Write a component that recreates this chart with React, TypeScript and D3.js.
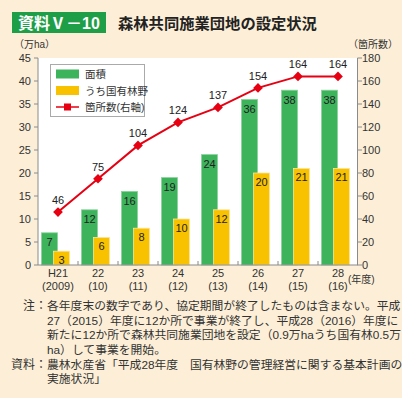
import React from 'react';
import * as d3 from 'd3';

const years = ['H21', '22', '23', '24', '25', '26', '27', '28'];
const yearsSub = ['(2009)', '(10)', '(11)', '(12)', '(13)', '(14)', '(15)', '(16)'];
const areaValues = [7, 12, 16, 19, 24, 36, 38, 38];
const nationalValues = [3, 6, 8, 10, 12, 20, 21, 21];
const siteCounts = [46, 75, 104, 124, 137, 154, 164, 164];
const leftTicks = [0, 5, 10, 15, 20, 25, 30, 35, 40, 45];
const rightTicks = [0, 20, 40, 60, 80, 100, 120, 140, 160, 180];
const legendItems = ['面積', 'うち国有林野', '箇所数(右軸)'];
const noteLines = [
  '各年度末の数字であり、協定期間が終了したものは含まない。平成',
  '27（2015）年度に12か所で事業が終了し、平成28（2016）年度に',
  '新たに12か所で森林共同施業団地を設定（0.9万haうち国有林0.5万',
  'ha）して事業を開始。',
];
const sourceLines = [
  '農林水産省「平成28年度　国有林野の管理経営に関する基本計画の',
  '実施状況」',
];

const W = 402;
const H = 398;
const font = "'Liberation Sans', 'Noto Sans CJK JP', sans-serif";
const green = '#3db35c';
const yellow = '#f9c200';
const red = '#e60012';
const axisColor = '#8a8a8a';
const textColor = '#333';

export default function App() {
  const left = 38;
  const right = 358;
  const top = 58;
  const bottom = 265;

  const x = d3.scaleBand<string>().domain(years).range([left, right]);
  const yL = d3.scaleLinear().domain([0, 45]).range([bottom, top]);
  const yR = d3.scaleLinear().domain([0, 180]).range([bottom, top]);

  const line = d3
    .line<number>()
    .x((_, i) => x(years[i])! + x.bandwidth() / 2)
    .y(d => yR(d));

  const diamond = d3.symbol().type(d3.symbolDiamond2).size(60)();

  return (
    <svg
      width={W}
      height={H}
      style={{ position: 'absolute', left: 0, top: 0, fontFamily: font }}
    >
      <rect width={W} height={H} fill="#fdefd7" />

      {/* title */}
      <rect x={12} y={12} width={94} height={21} fill="#1f9e48" />
      <text x={59} y={28.5} textAnchor="middle" fill="#fff" fontSize={16} fontWeight="bold">
        資料Ⅴ－10
      </text>
      <text x={118} y={28.5} fill="#222" fontSize={15.3} fontWeight="bold">
        森林共同施業団地の設定状況
      </text>

      {/* plot area */}
      <rect x={left} y={top} width={right - left} height={bottom - top} fill="#fff" />

      {/* bars */}
      {years.map((c, i) => {
        const bx = x(c)!;
        const gTop = yL(areaValues[i]);
        const yTop = yL(nationalValues[i]);
        return (
          <g key={c}>
            <rect x={bx + 3.5} y={gTop} width={16} height={bottom - gTop} fill={green} stroke="#8ad29c" strokeWidth={0.8} />
            <rect x={bx + 15.5} y={yTop} width={16} height={bottom - yTop} fill={yellow} stroke="#fde39a" strokeWidth={0.8} />
            <text x={bx + 11.5} y={gTop + 13.5} textAnchor="middle" fontSize={11} fill="#222">
              {areaValues[i]}
            </text>
            <text x={bx + 23.5} y={yTop + 13} textAnchor="middle" fontSize={11} fill="#222">
              {nationalValues[i]}
            </text>
          </g>
        );
      })}

      {/* line */}
      <path d={line(siteCounts)!} fill="none" stroke={red} strokeWidth={2} />
      {siteCounts.map((v, i) => {
        const cx = x(years[i])! + x.bandwidth() / 2;
        return (
          <g key={i}>
            <path d={diamond!} transform={`translate(${cx},${yR(v)})`} fill={red} />
            <text x={cx} y={yR(v) - 8} textAnchor="middle" fontSize={11} fill="#222">
              {v}
            </text>
          </g>
        );
      })}

      {/* left axis */}
      <line x1={left} x2={left} y1={top} y2={bottom} stroke={axisColor} />
      {leftTicks.map(t => (
        <g key={t}>
          <line x1={left - 4} x2={left} y1={yL(t)} y2={yL(t)} stroke={axisColor} />
          <text x={31} y={yL(t) + 4} textAnchor="end" fontSize={11} fill={textColor}>
            {t}
          </text>
        </g>
      ))}
      <text x={14} y={48} fontSize={10} fill={textColor}>（万ha）</text>

      {/* right axis */}
      <line x1={right - 0.5} x2={right - 0.5} y1={top} y2={bottom} stroke={axisColor} />
      {rightTicks.map(t => (
        <g key={t}>
          <line x1={right - 0.5} x2={right + 4} y1={yR(t)} y2={yR(t)} stroke={axisColor} />
          <text x={362} y={yR(t) + 4} fontSize={11} fill={textColor}>
            {t}
          </text>
        </g>
      ))}
      <text x={348} y={48} fontSize={10} fill={textColor}>（箇所数）</text>

      {/* bottom axis */}
      <line x1={left} x2={right} y1={bottom} y2={bottom} stroke={axisColor} />
      {years.slice(1).map(c => (
        <line key={c} x1={x(c)!} x2={x(c)!} y1={bottom} y2={bottom - 4} stroke={axisColor} />
      ))}
      {years.map((c, i) => (
        <g key={c}>
          <text x={x(c)! + x.bandwidth() / 2} y={277} textAnchor="middle" fontSize={11} fill={textColor}>
            {c}
          </text>
          <text x={x(c)! + x.bandwidth() / 2} y={290} textAnchor="middle" fontSize={11} fill={textColor}>
            {yearsSub[i]}
          </text>
        </g>
      ))}
      <text x={348} y={283} fontSize={10} fill={textColor}>(年度)</text>

      {/* legend */}
      <rect x={50.5} y={64.5} width={94} height={52} fill="#fff" stroke="#aaa" />
      <rect x={56} y={69.5} width={23} height={9} fill={green} />
      <rect x={56} y={86} width={23} height={9} fill={yellow} />
      <line x1={56} x2={79} y1={107} y2={107} stroke={red} strokeWidth={1.5} />
      <rect x={64} y={103.5} width={7} height={7} fill={red} />
      {legendItems.map((t, i) => (
        <text key={t} x={85} y={78 + i * 16.5} fontSize={10.5} fill={textColor}>
          {t}
        </text>
      ))}

      {/* notes */}
      <text x={47} y={310} textAnchor="end" fontSize={12} fill={textColor}>注：</text>
      {noteLines.map((t, i) => (
        <text key={i} x={47} y={310 + i * 14.6} fontSize={11.8} fill={textColor}>
          {t}
        </text>
      ))}
      <text x={47} y={368.5} textAnchor="end" fontSize={12} fill={textColor}>資料：</text>
      {sourceLines.map((t, i) => (
        <text key={i} x={47} y={368.5 + i * 14.6} fontSize={11.8} fill={textColor}>
          {t}
        </text>
      ))}
    </svg>
  );
}
